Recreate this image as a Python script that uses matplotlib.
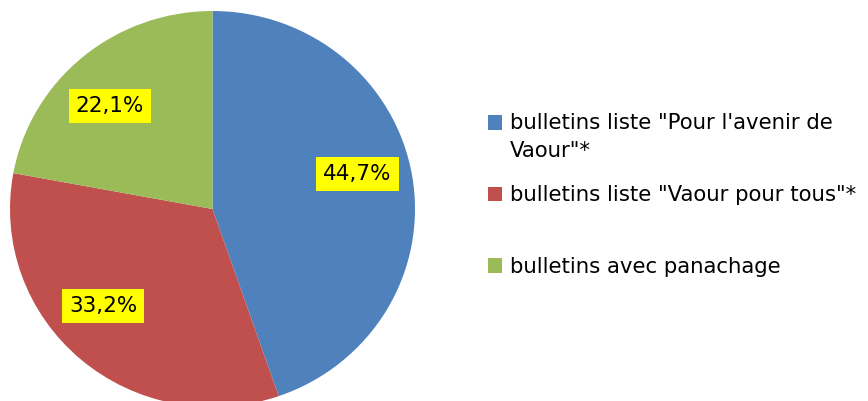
import matplotlib
matplotlib.use("Agg")
import matplotlib.pyplot as plt
from matplotlib.legend_handler import HandlerPatch
from matplotlib.patches import Rectangle
from matplotlib.transforms import ScaledTranslation

categories = ['bulletins liste "Pour l\'avenir de\nVaour"*',
              'bulletins liste "Vaour pour tous"*\n',
              'bulletins avec panachage']
values = [44.7, 33.2, 22.1]
colors = ['#4F81BD', '#C0504D', '#9BBB59']
# small nudges (pixels) of the percentage labels, as placed by the reference
label_nudge = [(-1, 11), (-13, 13), (-8, -8)]

plt.rcParams['font.family'] = ['DejaVu Sans']

W, H = 868, 401
fig = plt.figure(figsize=(W / 100, H / 100), dpi=100)
px_l, px_t, px_w, px_h = 10, 11, 405, 396
ax = fig.add_axes([px_l / W, 1 - (px_t + px_h) / H, px_w / W, px_h / H])

wedges, texts, autotexts = ax.pie(
    values, colors=colors, startangle=90, counterclock=False,
    autopct=lambda p: f"{p:.1f}%".replace('.', ','), pctdistance=0.73,
    wedgeprops=dict(linewidth=0, antialiased=True),
    textprops=dict(fontsize=15.5, color='black'))
ax.set_aspect('auto')
ax.set_xlim(-1, 1)
ax.set_ylim(-1, 1)
for t, (dx, dy) in zip(autotexts, label_nudge):
    t.set_bbox(dict(boxstyle='square,pad=0.33', fc='#FFFF00', ec='none'))
    t.set_transform(ax.transData + ScaledTranslation(dx / 100, dy / 100, fig.dpi_scale_trans))


class SquareHandler(HandlerPatch):
    def __init__(self, shift=0.0, **kw):
        super().__init__(**kw)
        self.shift = shift

    def create_artists(self, legend, orig_handle, xdescent, ydescent,
                       width, height, fontsize, trans):
        r = Rectangle((-xdescent, -ydescent + self.shift), width, height,
                      facecolor=orig_handle.get_facecolor(), edgecolor='none',
                      transform=trans)
        return [r]


F = 15.3
shift = 10.8
hmap = {wedges[0]: SquareHandler(shift), wedges[1]: SquareHandler(shift),
        wedges[2]: SquareHandler(0)}
leg = fig.legend(wedges, categories, loc='upper left',
                 bbox_to_anchor=(488 / W, 1 - 113 / H), frameon=False,
                 fontsize=F, handlelength=0.67, handleheight=0.67,
                 handletextpad=0.37, borderpad=0, borderaxespad=0,
                 labelspacing=1.15, handler_map=hmap)
for t in leg.get_texts():
    t.set_linespacing(1.47)

fig.savefig('out.png', dpi=100)
